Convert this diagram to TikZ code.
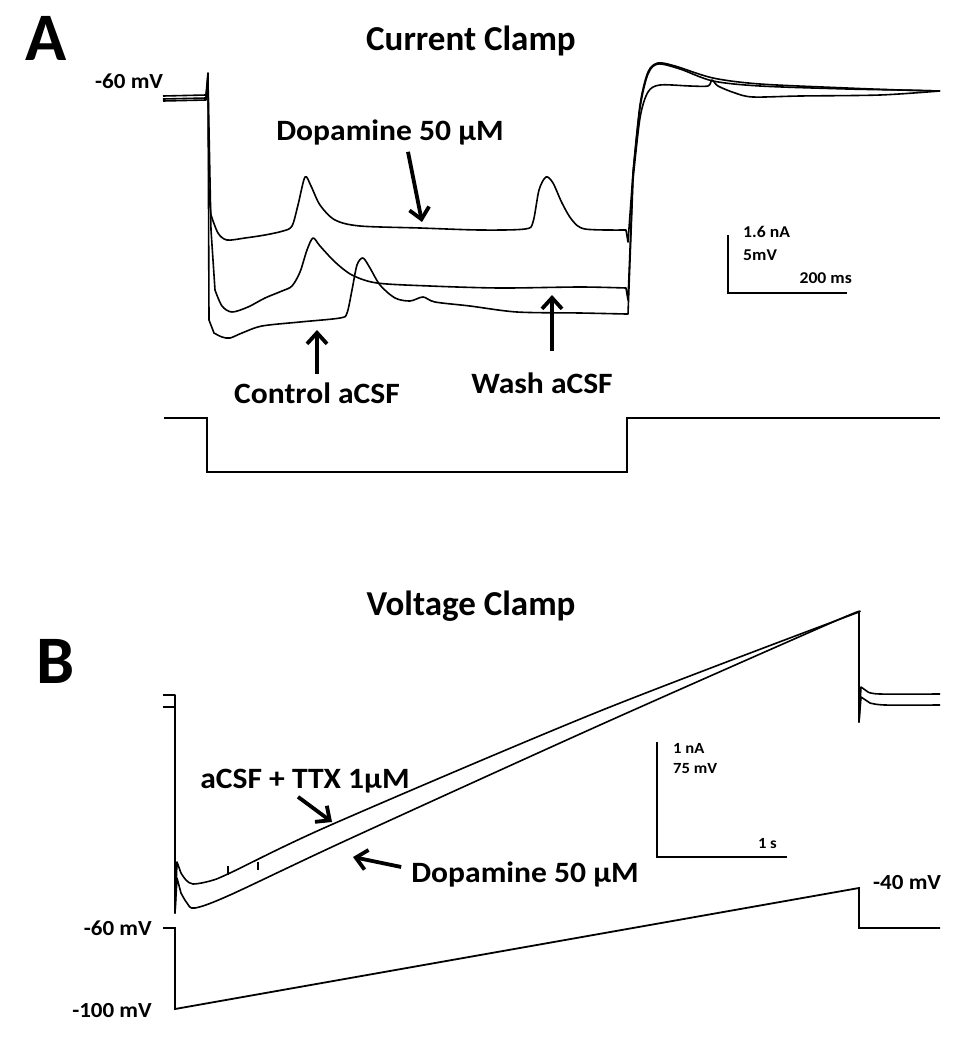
\documentclass[tikz,border=0pt]{standalone}
\usepackage{fontspec}
\setmainfont{Carlito}[FakeStretch=1.07]
\newfontfamily\panelfont{Carlito}
\usetikzlibrary{arrows.meta}

\begin{document}
\begin{tikzpicture}[
          x=1pt, y=-1pt,
          trace/.style={line width=1.6pt, line join=round},
          cmd/.style={line width=1.8pt},
          bar/.style={line width=2.6pt},
          arr/.style={line width=3.8pt, ->},
          lbl/.style={inner sep=0pt, font=\bfseries\fontsize{29.5}{32}\selectfont},
          title/.style={inner sep=0pt, font=\panelfont\bfseries\fontsize{35}{38}\selectfont},
          mv/.style={inner sep=0pt, font=\bfseries\fontsize{21.5}{24}\selectfont},
          small/.style={inner sep=0pt, font=\bfseries\fontsize{16.5}{18}\selectfont},
          smallB/.style={inner sep=0pt, font=\bfseries\fontsize{15.5}{17}\selectfont},
          panel/.style={inner sep=0pt, font=\panelfont\bfseries\fontsize{68}{70}\selectfont},
          >={Straight Barb[length=11pt, width=20pt]},
      ]
          \useasboundingbox (0,0) rectangle (959,1050);

          % Panel A: current clamp
          \node [panel, anchor=base west] (panelA) at (25,60) {A};
          \node [title, anchor=base] (titleA) at (471,50) {Current Clamp};
          \node [mv, anchor=base west] (restA) at (95,88) {-60 mV};

          % Traces
          \draw [trace] (163,96) -- (206,95) -- (208,73) -- (209,195) -- plot[smooth, tension=0.5] coordinates {
              (211,215) (218,233) (227,240) (245,238) (265,235) (283,231) (292,226) (298,205) (305,177)
              (311,186) (320,205) (335,220) (360,226) (420,228) (480,230) (525,229) (533,222) (539,190)
              (546,177) (553,183) (562,203) (572,220) (585,229) (626,230)}
              -- (628,242) -- plot[smooth, tension=0.5] coordinates {
              (633,173) (640,105) (648,72) (658,63) (675,66) (713,78) (760,84) (847,88) (900,90) (940,91)};
          \draw [trace] (163,99) -- (206,98) -- (208,80) -- (211,230) -- plot[smooth, tension=0.5] coordinates {
              (215,290) (222,306) (232,312) (248,307) (265,298) (282,291) (292,286) (300,272) (307,250)
              (313,238) (320,246) (335,262) (352,275) (377,283) (430,286) (500,288) (580,287) (626,288)}
              -- (628,300) -- plot[smooth, tension=0.5] coordinates {
              (633,173) (640,108) (648,74) (658,64) (680,69) (713,81) (760,86) (847,89) (900,90) (940,91)};
          \draw [trace] (163,101) -- (206,100) -- (208,74) -- (209,320) -- plot[smooth, tension=0.5] coordinates {
              (214,333) (222,337) (230,338) (242,333) (262,326) (300,322) (340,318) (347,313) (352,290)
              (357,265) (363,258) (370,268) (380,285) (395,298) (410,301) (423,297) (435,302) (470,306)
              (517,312) (580,313) (626,314)}
              -- (628,314) -- plot[smooth, tension=0.5] coordinates {
              (633,180) (640,118) (648,92) (660,85) (690,86) (708,86) (712,80) (718,86) (735,93) (753,97)
              (800,96) (880,95) (940,91)};

          % Current step
          \draw [cmd] (164,418) -- (207,418) -- (207,472) -- (627,472) -- (627,418) -- (940,418);

          % Labels and arrows
          \node [lbl, anchor=base] (dopaA) at (390,140) {Dopamine 50 µM};
          \node [lbl, anchor=base] (ctrlA) at (317,403) {Control aCSF};
          \node [lbl, anchor=base] (washA) at (542,393) {Wash aCSF};
          \coordinate (dopaTipA) at (422,222);
          \coordinate (ctrlTipA) at (317,330);
          \coordinate (washTipA) at (552,295);
          \draw [arr] ([xshift=18pt, yshift=-7pt]dopaA.south) -- (dopaTipA);
          \draw [arr] ([yshift=8pt]ctrlA.north) -- (ctrlTipA);
          \draw [arr] ([xshift=10pt, yshift=21pt]washA.north) -- (washTipA);

          % Scale bar
          \coordinate (barTopA) at (728,235);
          \coordinate (barCornerA) at (728,293);
          \coordinate (barEndA) at (847,293);
          \draw [bar] (barTopA) -- (barCornerA) -- (barEndA);
          \node [small, anchor=base west] (nAA) at (743,237) {1.6 nA};
          \node [small, anchor=base west] (mVA) at (743,260) {5mV};
          \node [small, anchor=base east] (msA) at (852,283) {200 ms};

          % Panel B: voltage clamp
          \node [panel, anchor=base west] (panelB) at (36,683) {B};
          \node [title, anchor=base] (titleB) at (471,615) {Voltage Clamp};

          % Traces
          \draw [trace] (163,695) -- (175,695) -- (175,913) -- (177,862) -- plot[smooth, tension=0.5] coordinates {
              (181,873) (186,880) (193,884) (210,881) (230,873) (333,824) (600,711) (859,612)}
              -- (859,722) -- (861,687) -- plot[smooth, tension=0.5] coordinates {(868,692) (880,694) (940,694)};
          \draw [trace] (163,707) -- (175,707) -- (175,913) -- (177,878) -- plot[smooth, tension=0.5] coordinates {
              (181,893) (187,903) (195,908) (230,895) (347,840) (600,725) (833,622) (859,612)}
              -- (859,722) -- (861,697) -- plot[smooth, tension=0.5] coordinates {(870,703) (885,705) (940,705)};
          \draw [trace] (228,875) -- (228,866);
          \draw [trace] (258,870) -- (258,862);

          % Voltage ramp
          \draw [cmd] (163,928) -- (175,928) -- (175,1009) -- (859,888) -- (859,928) -- (940,928);
          \node [mv, anchor=base east] (holdB) at (152,935) {-60 mV};
          \node [mv, anchor=base east] (startB) at (152,1017) {-100 mV};
          \node [mv, anchor=base west] (endB) at (873,889) {-40 mV};

          % Labels and arrows
          \node [lbl, anchor=base] (acsfB) at (305,788) {aCSF + TTX 1µM};
          \node [lbl, anchor=base] (dopaB) at (525,882) {Dopamine 50 µM};
          \coordinate (acsfTipB) at (332,822);
          \coordinate (dopaTipB) at (353,857);
          \draw [arr] ([xshift=-7pt, yshift=-4pt]acsfB.south) -- (acsfTipB);
          \draw [arr] ([xshift=-10pt, yshift=7pt]dopaB.west) -- (dopaTipB);

          % Scale bar
          \coordinate (barTopB) at (657,742);
          \coordinate (barCornerB) at (657,857);
          \coordinate (barEndB) at (787,857);
          \draw [bar] (barTopB) -- (barCornerB) -- (barEndB);
          \node [smallB, anchor=base west] (nAB) at (673,753) {1 nA};
          \node [smallB, anchor=base west] (mVB) at (673,773) {75 mV};
          \node [smallB, anchor=base east] (sB) at (777,848) {1 s};
\end{tikzpicture}
\end{document}
